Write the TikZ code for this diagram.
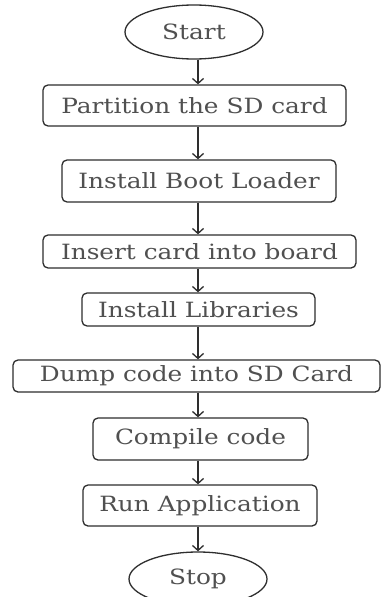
\documentclass[tikz,border=0pt]{standalone}
\usepackage{fontspec}
\setmainfont[FakeStretch=1.18]{DejaVu Serif}
\usetikzlibrary{arrows.meta,shapes.geometric}
\definecolor{linec}{HTML}{2E2E2E}
\definecolor{textc}{HTML}{505050}
\tikzset{
  x=1pt, y=-1pt,
  stepbox/.style={draw=linec, line width=1.3pt, rounded corners=5pt, inner sep=0pt,
    text=textc, font=\fontsize{21}{24}\selectfont, anchor=center},
  term/.style={ellipse, draw=linec, line width=1.3pt, inner sep=0pt,
    text=textc, font=\fontsize{21}{24}\selectfont, anchor=center},
  arr/.style={draw=linec, line width=1.3pt, -{Straight Barb[length=5pt,width=11pt]}},
}
\begin{document}
\begin{tikzpicture}
\useasboundingbox (0,0) rectangle (381,597);
\clip (0,0) rectangle (381,597);
\fill[white] (0,0) rectangle (381,597);
\coordinate (ax) at (198,0);
\node[term, minimum width=138, minimum height=54] (start) at (194,32) {Start};
\node[stepbox, minimum width=303, minimum height=41] (n1) at (194.5,105.5) {Partition the SD card};
\node[stepbox, minimum width=274, minimum height=42] (n2) at (199,181) {Install Boot Loader};
\node[stepbox, minimum width=313, minimum height=33] (n3) at (199.5,251.5) {Insert card into board};
\node[stepbox, minimum width=233, minimum height=33] (n4) at (198.5,309.5) {Install Libraries};
\node[stepbox, minimum width=367, minimum height=32] (n5) at (196.5,376) {Dump code into SD Card};
\node[stepbox, minimum width=215, minimum height=42] (n6) at (200.5,439) {Compile code};
\node[stepbox, minimum width=234, minimum height=41] (n7) at (200,505.5) {Run Application};
\node[term, minimum width=138, minimum height=54] (stop) at (198,579) {Stop};
\draw[arr] (start.south -| ax) -- (n1.north -| ax);
\draw[arr] (n1.south -| ax) -- (n2.north -| ax);
\draw[arr] (n2.south -| ax) -- (n3.north -| ax);
\draw[arr] (n3.south -| ax) -- (n4.north -| ax);
\draw[arr] (n4.south -| ax) -- (n5.north -| ax);
\draw[arr] (n5.south -| ax) -- (n6.north -| ax);
\draw[arr] (n6.south -| ax) -- (n7.north -| ax);
\draw[arr] (n7.south -| ax) -- (stop.north -| ax);
\end{tikzpicture}
\end{document}
